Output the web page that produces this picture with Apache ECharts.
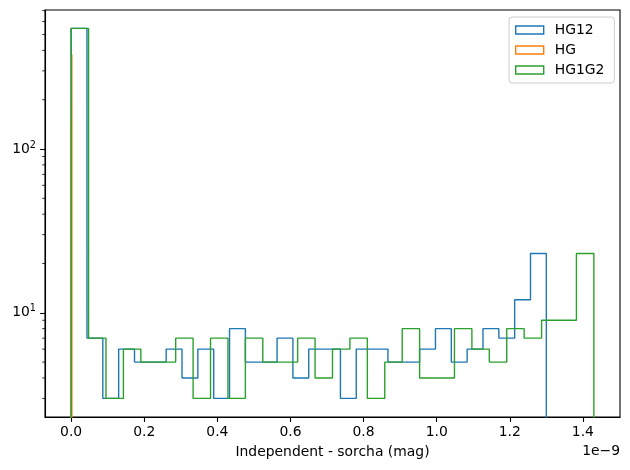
<!DOCTYPE html>
<html>
<head>
<meta charset="utf-8">
<script src="https://cdn.jsdelivr.net/npm/echarts@6/dist/echarts.min.js"></script>
<style>
  html, body { margin: 0; padding: 0; background: #fff; }
  #main { width: 630px; height: 470px; }
</style>
</head>
<body>
<div id="main"></div>
<script>
// histogram data (x in units of 1e-9 mag), 30 bins each
const hg12Range = [0, 1.30];
const hg12Counts = [545, 7, 3, 6, 5, 5, 6, 4, 6, 3, 8, 5, 5, 7, 4, 6, 6, 3, 6, 6, 5, 5, 6, 8, 5, 6, 8, 7, 12, 23];

const hgRange = [0, 0.002];
const hgCounts = [146, 0, 0, 0, 0, 0, 0, 19, 0, 0, 0, 0, 0, 0, 0, 189, 0, 0, 0, 0, 0, 0, 0, 0, 0, 0, 0, 0, 0, 377];

const hg1g2Range = [0, 1.43];
const hg1g2Counts = [545, 7, 3, 6, 5, 5, 7, 3, 7, 3, 7, 5, 5, 7, 4, 6, 7, 3, 5, 8, 4, 4, 8, 6, 5, 8, 7, 9, 9, 23];

const yMinorTicks = [3, 4, 5, 6, 7, 8, 9, 20, 30, 40, 50, 60, 70, 80, 90, 200, 300, 400, 500, 600, 700];

const xMin = -0.0715, xMax = 1.5015;
const yMin = 2.31, yMax = 706;
const FLOOR = 1; // below the visible range, clipped away

// outline of a step histogram, like matplotlib histtype='step'
function stepOutline(range, counts) {
    const n = counts.length;
    const w = (range[1] - range[0]) / n;
    const pts = [[range[0], FLOOR]];
    for (let i = 0; i < n; i++) {
        const c = counts[i] > 0 ? counts[i] : FLOOR;
        pts.push([range[0] + i * w, c]);
        pts.push([range[0] + (i + 1) * w, c]);
    }
    pts.push([range[1], FLOOR]);
    return pts;
}

const font = 'DejaVu Sans';
const colors = ['#1f77b4', '#ff7f0e', '#2ca02c'];

function histSeries(name, data, color) {
    return {
        type: 'line',
        name: name,
        data: data,
        symbol: 'none',
        clip: true,
        animation: false,
        lineStyle: { color: color, width: 1.4 },
        itemStyle: { color: color }
    };
}

function legendItem(name, color) {
    return {
        name: name,
        icon: 'rect',
        itemStyle: { color: 'rgba(0,0,0,0)', borderColor: color, borderWidth: 1.4 }
    };
}

let chart = echarts.init(document.getElementById('main'));
chart.setOption({
    animation: false,
    textStyle: { fontFamily: font },
    grid: {
        left: 45, right: 10, top: 10, bottom: 53,
        show: true, borderColor: '#000', borderWidth: 1.1
    },
    legend: {
        orient: 'vertical',
        left: 509, top: 17,
        padding: [6, 10, 6, 6],
        itemGap: 6,
        itemWidth: 28, itemHeight: 8,
        backgroundColor: 'rgba(255,255,255,0.8)',
        borderColor: '#cccccc', borderWidth: 1, borderRadius: 3,
        textStyle: { fontFamily: font, fontSize: 13.9, color: '#000', padding: [0, 0, 0, 6] },
        data: [
            legendItem('HG12', colors[0]),
            legendItem('HG', colors[1]),
            legendItem('HG1G2', colors[2])
        ]
    },
    xAxis: {
        type: 'value',
        min: xMin, max: xMax,
        splitNumber: 8,
        name: 'Independent - sorcha (mag)',
        nameLocation: 'middle',
        nameGap: 28,
        nameTextStyle: { fontFamily: font, fontSize: 13.9, color: '#000' },
        axisLine: { show: true, onZero: false, lineStyle: { color: '#000', width: 1.1 } },
        axisTick: { show: true, length: 4.9, lineStyle: { color: '#000', width: 1.1 } },
        axisLabel: {
            showMinLabel: false, showMaxLabel: false,
            margin: 8,
            fontFamily: font, fontSize: 13.9, color: '#000',
            formatter: function (v) { return v.toFixed(1); }
        },
        splitLine: { show: false }
    },
    yAxis: {
        type: 'log',
        logBase: 10,
        min: yMin, max: yMax,
        axisLine: { show: true, onZero: false, lineStyle: { color: '#000', width: 1.1 } },
        axisTick: { show: true, length: 4.9, lineStyle: { color: '#000', width: 1.1 } },
        axisLabel: {
            showMinLabel: false, showMaxLabel: false,
            margin: 9,
            color: '#000',
            formatter: function (v) {
                const e = Math.log10(v);
                if (Math.abs(e - Math.round(e)) > 1e-6) return '';
                return '{b|10}{s|' + Math.round(e) + '}';
            },
            rich: {
                b: { fontFamily: font, fontSize: 13.9, color: '#000' },
                s: { fontFamily: font, fontSize: 9.7, color: '#000', padding: [0, 0, 8, 0] }
            }
        },
        splitLine: { show: false }
    },
    graphic: [{
        type: 'text',
        right: 10, top: 444,
        style: { text: '1e\u22129', fontFamily: font, fontSize: 13.9, fill: '#000' }
    }],
    series: [
        histSeries('HG12', stepOutline(hg12Range, hg12Counts), colors[0]),
        histSeries('HG', stepOutline(hgRange, hgCounts), colors[1]),
        histSeries('HG1G2', stepOutline(hg1g2Range, hg1g2Counts), colors[2]),
        {
            type: 'custom',
            silent: true,
            animation: false,
            data: yMinorTicks.map(function (v) { return [xMin, v]; }),
            renderItem: function (params, api) {
                const p = api.coord([api.value(0), api.value(1)]);
                return {
                    type: 'line',
                    shape: { x1: p[0] - 2.8, y1: p[1], x2: p[0], y2: p[1] },
                    style: { stroke: '#000', lineWidth: 0.8 }
                };
            }
        }
    ]
});
window.addEventListener("resize", function () {
    chart.resize();
});
</script>
</body>
</html>
